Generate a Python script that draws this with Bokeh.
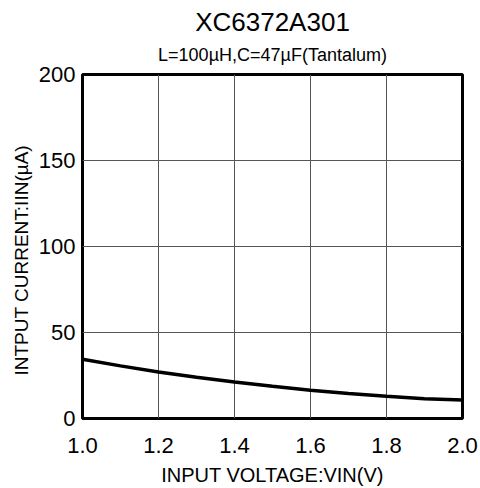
from bokeh.plotting import figure
from bokeh.models import Range1d, FixedTicker, PrintfTickFormatter, Title
from bokeh.embed import file_html
from bokeh.resources import INLINE

# ---- data ----
vin = [1.0, 1.1, 1.2, 1.3, 1.4, 1.5, 1.6, 1.7, 1.8, 1.9, 2.0]
iin = [34.4, 30.6, 27.0, 24.0, 21.2, 18.7, 16.4, 14.5, 12.9, 11.5, 10.7]
x_ticks = [1.0, 1.2, 1.4, 1.6, 1.8, 2.0]
y_ticks = [0, 50, 100, 150, 200]
title_text = "XC6372A301"
subtitle_text = "L=100µH,C=47µF(Tantalum)"
xlabel_text = "INPUT VOLTAGE:VIN(V)"
ylabel_text = "INTPUT CURRENT:IIN(µA)"

FONT = "Liberation Sans"

p = figure(frame_width=380, frame_height=344,
           min_border_left=82, min_border_right=18,
           min_border_top=74, min_border_bottom=70,
           x_range=Range1d(1.0, 2.0), y_range=Range1d(0, 200),
           output_backend="svg", toolbar_location=None,
           background_fill_color="white", border_fill_color="white")
p.title.visible = False

p.outline_line_color = "black"
p.outline_line_width = 3

p.xaxis.ticker = FixedTicker(ticks=x_ticks)
p.yaxis.ticker = FixedTicker(ticks=y_ticks)
p.xaxis.formatter = PrintfTickFormatter(format="%.1f")
p.yaxis.formatter = PrintfTickFormatter(format="%d")
for ax in (p.xaxis, p.yaxis):
    ax.axis_line_color = None
    ax.major_tick_line_color = None
    ax.minor_tick_line_color = None
    ax.major_tick_out = 0
    ax.major_tick_in = 0
    ax.major_label_text_font = FONT
    ax.major_label_text_font_size = "22px"
    ax.major_label_text_color = "black"
p.xaxis.major_label_standoff = 19
p.yaxis.major_label_standoff = 7

p.xaxis.axis_label = xlabel_text
p.xaxis.axis_label_text_font = FONT
p.xaxis.axis_label_text_font_size = "20px"
p.xaxis.axis_label_text_font_style = "normal"
p.xaxis.axis_label_text_color = "black"
p.xaxis.axis_label_standoff = 8

p.xgrid.grid_line_color = "#555555"
p.ygrid.grid_line_color = "#555555"
p.xgrid.grid_line_width = 1
p.ygrid.grid_line_width = 1

p.line(vin, iin, line_color="black", line_width=3.5)

sub = Title(text=subtitle_text, align="center", text_font=FONT,
            text_font_size="18px", text_font_style="normal",
            text_color="black", standoff=19)
main = Title(text=title_text, align="center", text_font=FONT,
             text_font_size="26px", text_font_style="normal",
             text_color="black", standoff=-7)
p.add_layout(sub, "above")
p.add_layout(main, "above")

ylab = Title(text=ylabel_text, align="left", offset=43, text_font=FONT,
             text_font_size="19px", text_font_style="normal",
             text_color="black", standoff=7)
p.add_layout(ylab, "left")

open("out.html", "w").write(file_html(p, INLINE))
